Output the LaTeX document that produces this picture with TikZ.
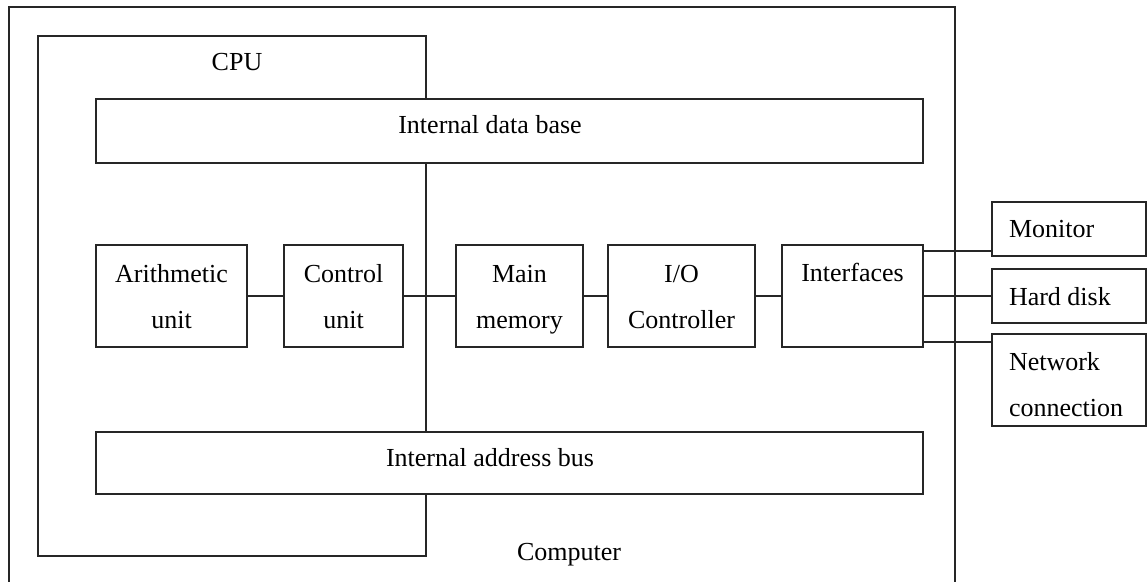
\documentclass[tikz,border=0pt]{standalone}
\usepackage{fontspec}
\setmainfont{Liberation Serif}
\begin{document}
\begin{tikzpicture}[x=0.75pt,y=-0.75pt,
  line width=1.1pt,
  every node/.style={inner sep=0pt,outer sep=0pt},
  blk/.style 2 args={draw=black!85,fill=white,minimum width=#1*0.75pt,minimum height=#2*0.75pt},
  wire/.style={draw=black!85},
  lbl/.style={anchor=base,font=\fontsize{19.5}{23}\selectfont},
  lbll/.style={anchor=base west,font=\fontsize{19.5}{23}\selectfont}]
\useasboundingbox (0,0) rectangle (1147,582);
\clip (0,0) rectangle (1147,582);

% enclosing boxes
\node[blk={946}{580}] (computer) at (482,297) {};
\node[blk={388}{520}] (cpu) at (232,296) {};

% internal buses
\node[blk={827}{64}] (databus) at (509.5,131) {};
\node[blk={827}{62}] (addrbus) at (509.5,463) {};
\draw[wire] (cpu.east |- databus.south) -- (cpu.east |- addrbus.north);

% functional units
\node[blk={151}{102}] (arith) at (171.5,296) {};
\node[blk={119}{102}] (ctrl) at (343.5,296) {};
\node[blk={127}{102}] (mem) at (519.5,296) {};
\node[blk={147}{102}] (io) at (681.5,296) {};
\node[blk={141}{102}] (iface) at (852.5,296) {};

% peripherals
\node[blk={154}{54}] (monitor) at (1069,229) {};
\node[blk={154}{54}] (disk) at (1069,296) {};
\node[blk={154}{92}] (net) at (1069,380) {};

% connections
\draw[wire] (arith.east) -- (ctrl.west);
\draw[wire] (ctrl.east) -- (mem.west);
\draw[wire] (mem.east) -- (io.west);
\draw[wire] (io.east) -- (iface.west);
\draw[wire] (iface.east) -- (disk.west);
\draw[wire] (iface.north east) ++(0,6) coordinate (m1) -- (m1 -| monitor.west);
\draw[wire] (iface.south east) ++(0,-5) coordinate (n1) -- (n1 -| net.west);

% labels
\node[lbl] (tcpu) at (237,70) {CPU};
\node[lbl] (tcomp) at (569,560) {Computer};
\node[lbl] (tdb) at (490,133) {Internal data base};
\node[lbl] (tab) at (490,466) {Internal address bus};
\node[lbl] (ta1) at (171.5,282) {Arithmetic};
\node[lbl] (ta2) at (171.5,328) {unit};
\node[lbl] (tc1) at (343.5,282) {Control};
\node[lbl] (tc2) at (343.5,328) {unit};
\node[lbl] (tm1) at (519.5,282) {Main};
\node[lbl] (tm2) at (519.5,328) {memory};
\node[lbl] (ti1) at (681.5,282) {I/O};
\node[lbl] (ti2) at (681.5,328) {Controller};
\node[lbl] (tif) at (852.5,281) {Interfaces};
\node[lbll] (tmon) at (1009,237) {Monitor};
\node[lbll] (thd) at (1009,305) {Hard disk};
\node[lbll] (tn1) at (1009,370) {Network};
\node[lbll] (tn2) at (1009,416) {connection};
\end{tikzpicture}
\end{document}
